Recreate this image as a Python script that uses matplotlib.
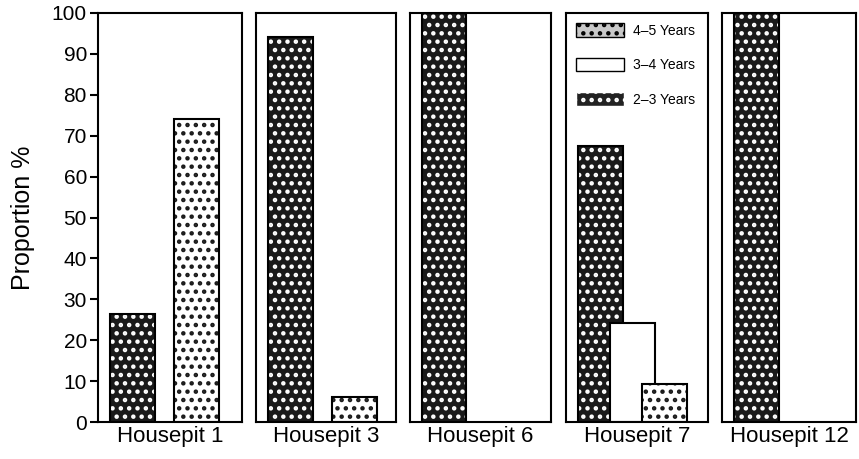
import matplotlib.pyplot as plt
from matplotlib.patches import Patch
import numpy as np

plt.rcParams['font.family'] = ['Liberation Sans', 'DejaVu Sans']
plt.rcParams['hatch.linewidth'] = 2.0

panels = ['Housepit 1', 'Housepit 3', 'Housepit 6', 'Housepit 7', 'Housepit 12']
age_classes = ['2\u20133 Years', '3\u20134 Years', '4\u20135 Years']
# proportion (%) per housepit for each age class (None = absent)
yrs_2_3 = [26.5, 94.2, 100.0, 67.5, 100.0]
yrs_3_4 = [None, None, None, 24.3, None]
yrs_4_5 = [74.0, 6.0, None, 9.2, None]
yticks = np.arange(0, 101, 10)

# panel pixel extents (left, right)
extents = [(98, 242), (256, 396), (410, 551), (566, 708), (722, 856)]
W, H = 859, 459
top_px, bot_px = 13, 422
px_unit = 32.0
width = 45 / px_unit

fig = plt.figure(figsize=(W / 100, H / 100), dpi=100)


def draw_bar(ax, x, h, kind):
    if h is None:
        return
    if kind == 'dark':
        ax.bar(x, h, width, color='#1a1a1a', edgecolor='white', hatch='..', linewidth=0, zorder=2)
        ax.bar(x, h, width, fill=False, edgecolor='black', linewidth=1.5, zorder=2.1)
    elif kind == 'white':
        ax.bar(x, h, width, color='white', edgecolor='black', linewidth=1.5, zorder=3)
    else:
        ax.bar(x, h, width, color='white', edgecolor='#1a1a1a', hatch='..', linewidth=0, zorder=4)
        ax.bar(x, h, width, fill=False, edgecolor='black', linewidth=1.5, zorder=4.1)


axes = []
for i, (l, r) in enumerate(extents):
    ax = fig.add_axes([l / W, 1 - bot_px / H, (r - l) / W, (bot_px - top_px) / H])
    off = 34
    ax.set_xlim(-off / px_unit, (r - l - off) / px_unit)
    ax.set_ylim(0, 100)
    draw_bar(ax, 0, yrs_2_3[i], 'dark')
    draw_bar(ax, 1, yrs_3_4[i], 'white')
    draw_bar(ax, 2, yrs_4_5[i], 'light')
    ax.set_xticks([])
    ax.set_xlabel(panels[i], fontsize=16, labelpad=3)
    for s in ax.spines.values():
        s.set_linewidth(1.5)
        s.set_zorder(5)
    if i == 0:
        ax.set_yticks(yticks)
        ax.tick_params(axis='y', labelsize=15, width=1.5, length=6, direction='out', pad=2)
        ax.set_ylabel('Proportion %', fontsize=18, labelpad=12)
    else:
        ax.set_yticks([])
    axes.append(ax)

# legend in Housepit 7 panel
handles = [
    Patch(facecolor='#c8c8c8', edgecolor='black', hatch='..', linewidth=1),
    Patch(facecolor='white', edgecolor='black', linewidth=1),
    Patch(facecolor='#222222', edgecolor='white', hatch='..', linewidth=1),
]
labels = [age_classes[2], age_classes[1], age_classes[0]]
axes[3].legend(handles, labels, loc='upper left', frameon=False, fontsize=10,
               handlelength=3.4, handleheight=1.1, handletextpad=0.65, labelspacing=1.45,
               borderaxespad=0.35, bbox_to_anchor=(0.0, 1.0))

fig.savefig('out.png', dpi=100)
